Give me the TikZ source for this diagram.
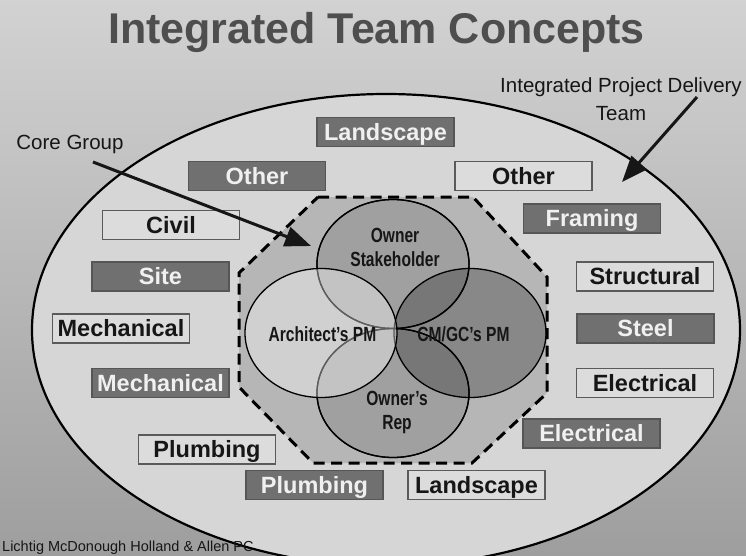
\documentclass[tikz,border=0pt]{standalone}
\usepackage{fontspec}
\setmainfont{Liberation Sans}
\newfontfamily\narrowfont[FakeStretch=0.76]{Liberation Sans}
\usetikzlibrary{arrows.meta,shapes.geometric}
\definecolor{bgtop}{HTML}{D2D2D2}
\definecolor{bgbot}{HTML}{9E9E9E}
\definecolor{ellfill}{HTML}{D6D6D6}
\definecolor{octfill}{HTML}{B6B6B6}
\definecolor{osfill}{HTML}{A0A0A0}
\definecolor{darkfill}{HTML}{707070}
\definecolor{darkedge}{HTML}{565656}
\definecolor{lightfill}{HTML}{DCDCDC}
\definecolor{lightedge}{HTML}{5A5A5A}
\definecolor{titlegray}{HTML}{4E4E4E}
\definecolor{ink}{HTML}{161616}
\begin{document}
\begin{tikzpicture}[x=1pt,y=-1pt,
  boxbase/.style={rectangle, minimum width=137pt, minimum height=29pt, inner sep=0pt,
    text height=16.8pt, text depth=0pt, font=\fontsize{23.5}{26}\selectfont\bfseries},
  darkbox/.style={boxbase, fill=darkfill, draw=darkedge, line width=1.2pt, text=white!94!black},
  lightbox/.style={boxbase, fill=lightfill, draw=lightedge, line width=1.4pt, text=ink},
  circ/.style={ellipse, minimum width=152pt, minimum height=129pt, inner sep=0pt},
  circlabel/.style={align=center, text=ink, font=\fontsize{20.5}{24}\narrowfont\bfseries},
  calllabel/.style={align=center, text=ink, font=\fontsize{20.5}{28}\selectfont},
  pointer/.style={draw=ink, line width=3pt, -{Triangle[length=26pt,width=20pt]}}
]
\useasboundingbox (0,0) rectangle (746,556);
\clip (0,0) rectangle (746,556);
% background
\shade[top color=bgtop, bottom color=bgbot] (0,0) rectangle (746,556);
% title
\node[anchor=base, text=titlegray, font=\fontsize{43}{48}\selectfont\bfseries] (title) at (376.5,44) {Integrated Team Concepts};
% big ellipse (team)
\draw[fill=ellfill, draw=black, line width=2.2pt] (386,330) ellipse [x radius=354pt, y radius=236pt];
% core group octagon
\draw[fill=octfill, draw=black, line width=3pt, dash pattern=on 11pt off 6.5pt]
  (318,197) -- (473,197) -- (547,277) -- (547,393) -- (472,463) -- (313,463) -- (239,387) -- (239,273) -- cycle;
% circles
\node[circ, fill=osfill, draw=black, line width=1.3pt] (os) at (393,264) {};
\node[circ, fill=osfill, draw=black, line width=1.3pt] (or) at (393,393) {};
\node[circ, fill=black, fill opacity=0.25, draw=black, draw opacity=1, line width=1.3pt] (cm) at (470,333) {};
\draw[black, line width=1.3pt] (os.center) ellipse [x radius=76pt, y radius=64.5pt];
\draw[black, line width=1.3pt] (or.center) ellipse [x radius=76pt, y radius=64.5pt];
\node[circ, fill=white, fill opacity=0.37, draw=black, draw opacity=1, line width=1.3pt] (arch) at (321,333) {};
% circle labels
\node[circlabel] (oslabel) at (395,247) {Owner\\Stakeholder};
\node[circlabel] (archlabel) at (322.5,334.5) {Architect’s PM};
\node[circlabel] (cmlabel) at (463.5,334.5) {CM/GC’s PM};
\node[circlabel] (orlabel) at (397,412.5) {Owner’s\\Rep};
% boxes
\node[darkbox]  (land1)  at (385.5,132) {Landscape};
\node[darkbox]  (oth1)   at (257,176)   {Other};
\node[lightbox] (oth2)   at (523.5,176) {Other};
\node[lightbox] (civil)  at (171,225)   {Civil};
\node[darkbox]  (fram)   at (592,218.5) {Framing};
\node[darkbox]  (site)   at (160.5,276.5) {Site};
\node[lightbox] (struct) at (645,276.5) {Structural};
\node[lightbox] (mech1)  at (121,328.5) {Mechanical};
\node[darkbox]  (steel)  at (645.5,328.5) {Steel};
\node[darkbox]  (mech2)  at (160.5,383) {Mechanical};
\node[lightbox] (elec1)  at (645,383)   {Electrical};
\node[darkbox]  (elec2)  at (591.5,433.5) {Electrical};
\node[lightbox] (plumb1) at (207,449.5) {Plumbing};
\node[darkbox]  (plumb2) at (314.5,485) {Plumbing};
\node[lightbox] (land2)  at (476.5,485) {Landscape};
% callouts
\node[calllabel, anchor=base] (core) at (70,150) {Core Group};
\node[calllabel] (ipd) at (621,99) {Integrated Project Delivery\\Team};
\coordinate (coreStart) at (93,162);
\coordinate (coreTip) at (311,246);
\coordinate (ipdStart) at (697,97);
\coordinate (ipdTip) at (622,182);
\draw[pointer] (coreStart) -- (coreTip);
\draw[pointer] (ipdStart) -- (ipdTip);
% footer
\node[anchor=base west, inner sep=0pt, text=ink, font=\fontsize{14.5}{17}\selectfont] (footer) at (2,551) {Lichtig McDonough Holland \& Allen PC};
\end{tikzpicture}
\end{document}
